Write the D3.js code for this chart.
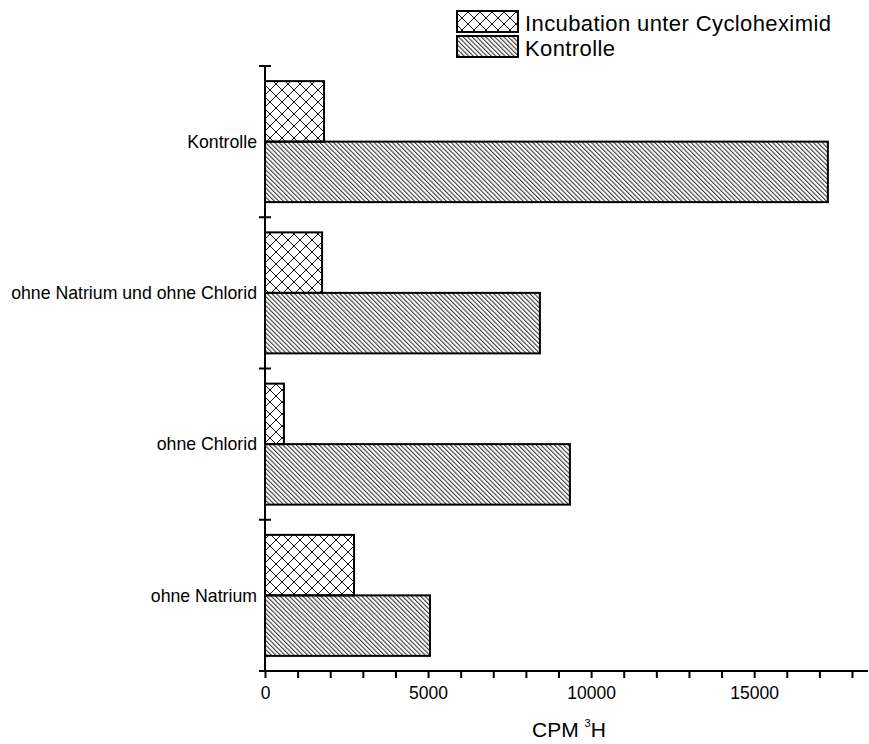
<!DOCTYPE html>
<html>
<head>
<meta charset="utf-8">
<script src="https://cdn.jsdelivr.net/npm/d3@7"></script>
<style>
  html, body { margin: 0; padding: 0; background: #fff; }
  svg { display: block; font-family: "Liberation Sans", Arial, sans-serif; }
</style>
</head>
<body>
<svg id="chart" width="869" height="744"></svg>
<script>
// Experimental conditions (top to bottom)
const categories = ["Kontrolle", "ohne Natrium und ohne Chlorid", "ohne Chlorid", "ohne Natrium"];
// Tritium counts (CPM 3H) per condition
const cycloheximidValues = [1810, 1750, 580, 2730];
const kontrolleValues = [17260, 8430, 9350, 5060];
const seriesNames = ["Incubation unter Cycloheximid", "Kontrolle"];
const xTickValues = d3.range(0, 18001, 1000);
const xTickLabels = [0, 5000, 10000, 15000];

const svg = d3.select("#chart");

// Hatch patterns
const defs = svg.append("defs");
const diag = defs.append("pattern")
  .attr("id", "diag")
  .attr("patternUnits", "userSpaceOnUse")
  .attr("width", 3.2).attr("height", 10)
  .attr("patternTransform", "rotate(-45)");
diag.append("line")
  .attr("x1", 0.6).attr("y1", 0).attr("x2", 0.6).attr("y2", 10)
  .attr("stroke", "#000").attr("stroke-width", 0.85);

const cross = defs.append("pattern")
  .attr("id", "cross")
  .attr("patternUnits", "userSpaceOnUse")
  .attr("width", 12).attr("height", 12);
cross.append("path")
  .attr("d", "M0,0L12,12M12,0L0,12M-6,6L6,18M6,-6L18,6M-6,6L6,-6M6,18L18,6")
  .attr("stroke", "#111").attr("stroke-width", 1).attr("fill", "none");

const fills = ["url(#cross)", "url(#diag)"];

// Scales
const x = d3.scaleLinear().domain([0, 18000]).range([265, 852]);
const y = d3.scaleBand().domain(categories).range([66, 671])
  .paddingInner(0.2).paddingOuter(0.1);
const sub = d3.scaleBand().domain(seriesNames).range([0, y.bandwidth()]);

const rows = categories.map((c, i) => ({
  cat: c,
  vals: [cycloheximidValues[i], kontrolleValues[i]]
}));

// Bars
const g = svg.append("g");
rows.forEach(r => {
  r.vals.forEach((v, j) => {
    g.append("rect")
      .attr("x", x(0))
      .attr("y", y(r.cat) + sub(seriesNames[j]))
      .attr("width", x(v) - x(0))
      .attr("height", sub.bandwidth())
      .attr("fill", fills[j])
      .attr("stroke", "#000")
      .attr("stroke-width", 2);
  });
});

// X axis
const xAxisY = 671;
const xAxis = d3.axisBottom(x)
  .tickValues(xTickValues)
  .tickSize(7)
  .tickFormat(d => xTickLabels.includes(d) ? String(d) : "");
const gx = svg.append("g").attr("transform", `translate(0,${xAxisY})`).call(xAxis);
gx.select(".domain").remove();
gx.selectAll(".tick line").attr("stroke", "#000").attr("stroke-width", 2);
gx.selectAll(".tick text")
  .attr("y", 16).attr("dy", "0.71em")
  .attr("font-size", "17.5px")
  .attr("font-family", "Liberation Sans, Arial, sans-serif")
  .attr("fill", "#000");
svg.append("line")
  .attr("x1", x(0) - 1).attr("x2", 868)
  .attr("y1", xAxisY).attr("y2", xAxisY)
  .attr("stroke", "#000").attr("stroke-width", 2);

// Y axis with group boundary ticks crossing the line
const step = y.step();
const boundaries = categories.map(c => y(c) - step * y.paddingInner() / 2)
  .concat([y(categories[categories.length - 1]) + y.bandwidth() + step * y.paddingInner() / 2]);
svg.append("line")
  .attr("x1", x(0)).attr("x2", x(0))
  .attr("y1", y.range()[0]).attr("y2", xAxisY + 1)
  .attr("stroke", "#000").attr("stroke-width", 2);
svg.selectAll(".ytick").data(boundaries).join("line")
  .attr("class", "ytick")
  .attr("x1", x(0) - 6).attr("x2", x(0) + 6)
  .attr("y1", d => d).attr("y2", d => d)
  .attr("stroke", "#000").attr("stroke-width", 2);

// Category labels
svg.selectAll(".cat").data(categories).join("text")
  .attr("class", "cat")
  .attr("x", 257)
  .attr("y", d => y(d) + y.bandwidth() / 2)
  .attr("dy", "0.35em")
  .attr("text-anchor", "end")
  .attr("font-size", "17.7px")
  .attr("fill", "#000")
  .text(d => d);

// Axis title
const title = svg.append("text")
  .attr("x", 532).attr("y", 737)
  .attr("font-size", "21px").attr("fill", "#000");
title.append("tspan").text("CPM ");
title.append("tspan").attr("font-size", "11px").attr("dy", "-10").text("3");
title.append("tspan").attr("dy", "10").text("H");

// Legend
const legend = svg.append("g");
seriesNames.forEach((name, i) => {
  const ly = [11, 36][i];
  legend.append("rect")
    .attr("x", 457).attr("y", ly)
    .attr("width", 61).attr("height", 21)
    .attr("fill", fills[i])
    .attr("stroke", "#000").attr("stroke-width", 2);
  legend.append("text")
    .attr("x", 525).attr("y", ly + 20)
    .attr("font-size", "22px")
    .attr("letter-spacing", "0.4px")
    .attr("fill", "#000")
    .text(name);
});
</script>
</body>
</html>
